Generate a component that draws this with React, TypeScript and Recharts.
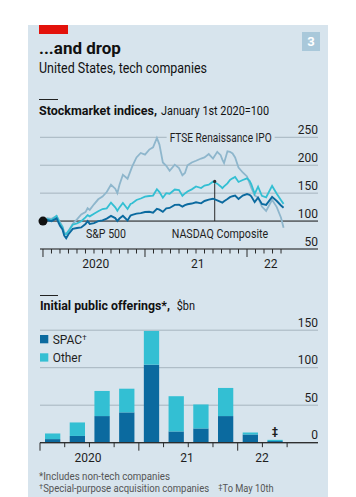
import React from 'react';
import {
  LineChart, Line, XAxis, YAxis, CartesianGrid, ReferenceLine, ReferenceDot,
  BarChart, Bar, LabelList,
} from 'recharts';

// ---------- Stockmarket indices (Jan 1st 2020 = 100), x = months since Jan 1st 2020 ----------
const months = [
  0, 0.5, 1, 1.6, 2, 2.3, 2.5, 2.73, 3, 3.5, 4, 4.5, 5, 5.25, 5.5, 6, 6.5, 7, 7.5, 8, 8.5, 8.75,
  9, 9.4, 9.95, 10.3, 10.5, 11, 11.5, 12, 12.5, 12.95, 13.4, 13.7, 14.1, 14.5, 14.9, 15.5, 16,
  16.4, 16.7, 17, 17.5, 18, 18.6, 19, 19.5, 20, 20.5, 20.9, 21.1, 21.3, 21.7, 22, 22.3, 22.6,
  23, 23.5, 24, 24.3, 24.5, 24.9, 25.3, 25.75, 26.25, 26.95, 27.5, 28, 28.3,
];
const sp500 = [
  100, 101.8, 99.8, 104.8, 91.4, 85, 73.9, 69.2, 76.5, 86.1, 87.6, 88.6, 94.6, 100, 94.9, 96.4,
  99.9, 101.2, 104.4, 109.2, 105.3, 100.2, 104.6, 109.4, 101.2, 109.9, 111, 113.3, 114.3, 116.3,
  116.6, 115, 121.8, 120.5, 116.6, 122.8, 123.5, 129.1, 129.4, 125.8, 128.5, 130.1, 131.4, 133.7,
  131.8, 136, 138.3, 140, 137, 134.5, 133.1, 135.5, 139.5, 142.8, 144.5, 145.6, 139.7, 145.8,
  148.5, 147, 144.3, 133.9, 142, 130.8, 129.1, 143.3, 135.9, 127.9, 123.8,
];
const nasdaq = [
  100, 103.2, 102, 109.4, 95.5, 88.6, 76.9, 76.5, 82, 93.5, 95.9, 99.7, 106.5, 110.6, 108.4, 113.2,
  117.6, 121.5, 122.8, 133.1, 124.7, 118.5, 124.5, 132.4, 121.6, 130.5, 131.8, 137.7, 140.4, 143.6,
  144.9, 145.7, 157.1, 152, 141.8, 150, 149, 156.5, 155.6, 145.2, 149.5, 153.1, 156.8, 161.9,
  159.1, 163.6, 165.2, 170.6, 167, 162, 158.9, 162, 167.5, 173.8, 176.5, 179, 170, 173.5,
  176.5, 172, 166, 148.8, 161.5, 145.3, 142.6, 162.9, 148.8, 137.5, 130.8,
];
const ftseIpo = [
  100, 105, 104, 109, 98, 90, 80, 77, 82, 95, 103, 112, 116, 123, 120, 130,
  139, 144, 152, 165, 158, 150, 165, 183, 176, 190, 198, 214, 222, 219,
  228, 232, 249, 237, 205, 199, 190, 201, 195, 182, 186, 200, 205, 208,
  212, 214, 220, 212, 224, 218, 210, 204, 225, 224, 221, 214, 196, 187,
  180, 168, 160, 146, 142, 126, 118, 138, 125, 106, 88,
];
const lineYTicks = [50, 100, 150, 200, 250];
const monthTicks = Array.from({ length: 29 }, (_, i) => i);
const lineYearLabelPos = [6.2, 18.2, 26.8];
const lineYearLabels = ['2020', '21', '22'];
const nasdaqPointer = { t: 20.2, value: 171 };
const seriesLabels = [
  { name: 'FTSE Renaissance IPO', t: 14.9, value: 250 },
  { name: 'S&P 500', t: 5.06, value: 77.3 },
  { name: 'NASDAQ Composite', t: 15.14, value: 76.4 },
];

// ---------- Initial public offerings, $bn, by quarter ----------
const quarters = ['Q1 20', 'Q2 20', 'Q3 20', 'Q4 20', 'Q1 21', 'Q2 21', 'Q3 21', 'Q4 21', 'Q1 22', 'Q2 22'];
const spac = [4.8, 9, 35.5, 40.4, 104, 15, 19, 35.5, 11, 2.2];
const other = [7.5, 18, 33.5, 31.6, 45, 47, 32, 37.5, 2.6, 1.6];
const notes = ['', '', '', '', '', '', '', '', '', '‡'];
const barYTicks = [0, 50, 100, 150];
const quarterTicks = Array.from({ length: 11 }, (_, i) => i);
const barYearLabelPos = [1.94, 5.95, 8.98];
const barYearLabels = ['2020', '21', '22'];

const FONT = 'Roboto, "Noto Sans", sans-serif';
const BG = '#d7e4ed';
const DARK = '#0b6a9f';
const CYAN = '#33bfd3';
const LIGHT = '#8eb6cc';
const GRID = '#a6b4be';
const AXIS = '#2a2a2a';
const TXT = '#1e1e1e';

const lineData = months.map((t, i) => ({ t, sp: sp500[i], nq: nasdaq[i], ipo: ftseIpo[i] }));
const barData = quarters.map((q, i) => ({ q, pos: i + 0.5, spac: spac[i], other: other[i], note: notes[i] }));

const RightTick = (props: any) => {
  const { x, y, payload } = props;
  return (
    <text x={x} y={y - 3.5} textAnchor="end" fontSize={12} fill={TXT} fontFamily={FONT}>
      {payload.value}
    </text>
  );
};

const makeXTick = (yearEvery: number, labelPos: number[], labels: string[], dy: number) => (props: any) => {
  const { x, y, payload } = props;
  const v = payload.value as number;
  if (Number.isInteger(v)) {
    const tall = v % yearEvery === 0;
    return <line x1={x} x2={x} y1={y} y2={y + (tall ? 8 : 4.5)} stroke={AXIS} strokeWidth={1} />;
  }
  const idx = labelPos.indexOf(v);
  return (
    <text x={x} y={y + dy} textAnchor="middle" fontSize={12} fill={TXT} fontFamily={FONT}>
      {idx >= 0 ? labels[idx] : ''}
    </text>
  );
};

const LineXTick = makeXTick(12, lineYearLabelPos, lineYearLabels, 18.5);
const BarXTick = makeXTick(4, barYearLabelPos, barYearLabels, 19);

const SeriesLabel = (props: any) => {
  const { viewBox, text, box, width } = props;
  const x = viewBox.x;
  const y = viewBox.y;
  return (
    <g>
      {box && <rect x={x - 3} y={y - 7} width={width + 6} height={14} fill={BG} />}
      <text x={x} y={y + 4.2} fontSize={12} fill={TXT} fontFamily={FONT} textLength={width} lengthAdjust="spacingAndGlyphs">
        {text}
      </text>
    </g>
  );
};

const labelWidths = [102, 40, 96.5];

export default function App() {
  return (
    <div style={{ position: 'absolute', left: 0, top: 0, width: 356, height: 497, background: '#fff', fontFamily: FONT }}>
      <div style={{ position: 'absolute', left: 28, top: 25, width: 300, height: 472, background: BG }} />
      <svg width={356} height={497} style={{ position: 'absolute', left: 0, top: 0 }} fontFamily={FONT}>
        <rect x={39} y={25} width={29} height={9} fill="#e3120b" />
        <rect x={302} y={32} width={18} height={19} fill="#a9c8da" />
        <text x={311} y={46.2} textAnchor="middle" fontWeight={700} fontSize={13} fill="#fff">3</text>
        <text x={39} y={54} fontSize={17} fontWeight={700} fill="#111">...and drop</text>
        <text x={39} y={72.5} fontSize={14} fill="#111" textLength={168} lengthAdjust="spacingAndGlyphs">United States, tech companies</text>
        <line x1={39} x2={58} y1={99.5} y2={99.5} stroke="#222" strokeWidth={1} />
        <text x={39} y={114.5} fontSize={12.5} fontWeight={700} fill="#111" textLength={118} lengthAdjust="spacingAndGlyphs">Stockmarket indices,</text>
        <text x={161} y={114.5} fontSize={12} fill="#111" textLength={108} lengthAdjust="spacingAndGlyphs">January 1st 2020=100</text>
        <line x1={40} x2={58} y1={295.5} y2={295.5} stroke="#222" strokeWidth={1} />
        <text x={40} y={310.3} fontSize={12.5} fontWeight={700} fill="#111" textLength={130} lengthAdjust="spacingAndGlyphs">Initial public offerings*,</text>
        <text x={176.7} y={310.3} fontSize={12} fill="#111" textLength={18.3} lengthAdjust="spacingAndGlyphs">$bn</text>
        <rect x={40} y={335} width={8.3} height={8.3} fill={DARK} />
        <text x={52.7} y={344.3} fontSize={12} fill={TXT}>SPAC<tspan fontSize={8} dy={-4}>†</tspan></text>
        <rect x={40} y={353.3} width={8.3} height={8.3} fill={CYAN} />
        <text x={52.7} y={362.4} fontSize={12} fill={TXT} textLength={29} lengthAdjust="spacingAndGlyphs">Other</text>
        <text x={39} y={480} fontSize={10} fill="#555" textLength={131} lengthAdjust="spacingAndGlyphs">*Includes non-tech companies</text>
        <text x={39} y={492} fontSize={10} fill="#555">
          <tspan fontSize={7.5} dy={-3}>†</tspan>
          <tspan dy={3} textLength={166} lengthAdjust="spacingAndGlyphs">Special-purpose acquisition companies</tspan>
        </text>
        <text x={218.3} y={492} fontSize={10} fill="#555">
          <tspan fontSize={7.5} dy={-3}>‡</tspan>
          <tspan dy={3} textLength={51} lengthAdjust="spacingAndGlyphs">To May 10th</tspan>
        </text>
      </svg>

      <div style={{ position: 'absolute', left: 0, top: 0 }}>
        <LineChart width={356} height={280} data={lineData} margin={{ top: 137.3, right: 37, left: 40, bottom: 11 }}>
          <CartesianGrid vertical={false} stroke={GRID} strokeWidth={1} />
          <XAxis
            dataKey="t" type="number" domain={[-0.35, 32.35]} ticks={[...monthTicks, ...lineYearLabelPos]}
            interval={0} tickSize={0} tickMargin={0} height={20} stroke={AXIS} tick={<LineXTick />}
          />
          <YAxis
            orientation="right" width={1} domain={[50, 250]} ticks={lineYTicks} tickSize={0} tickMargin={0}
            interval={0} axisLine={false} tickLine={false} tick={<RightTick />}
          />
          <ReferenceLine y={100} stroke={AXIS} strokeWidth={1} />
          <ReferenceLine
            segment={[{ x: nasdaqPointer.t, y: 100 }, { x: nasdaqPointer.t, y: nasdaqPointer.value }]}
            stroke={AXIS} strokeWidth={1}
          />
          {seriesLabels.map((s, i) => (
            <ReferenceDot
              key={s.name} x={s.t} y={s.value} r={0} fill="none" stroke="none"
              label={<SeriesLabel text={s.name} box={i === 0} width={labelWidths[i]} />}
            />
          ))}
          <Line dataKey="ipo" stroke={LIGHT} strokeWidth={1.8} dot={false} isAnimationActive={false} />
          <Line dataKey="nq" stroke={CYAN} strokeWidth={1.8} dot={false} isAnimationActive={false} />
          <Line dataKey="sp" stroke={DARK} strokeWidth={1.9} dot={false} isAnimationActive={false} />
          <ReferenceDot x={nasdaqPointer.t} y={nasdaqPointer.value} r={1.6} fill={AXIS} stroke="none" />
          <ReferenceDot x={0} y={100} r={4.5} fill="#111" stroke="none" />
        </LineChart>
      </div>

      <div style={{ position: 'absolute', left: 0, top: 0 }}>
        <BarChart width={356} height={475} data={barData} margin={{ top: 330.2, right: 37, left: 40, bottom: 12.3 }}>
          <CartesianGrid vertical={false} stroke={GRID} strokeWidth={1} />
          <XAxis
            dataKey="pos" type="number" domain={[0, 11.25]} ticks={[...quarterTicks, ...barYearLabelPos]}
            interval={0} tickSize={0} tickMargin={0} height={20} stroke={AXIS} tick={<BarXTick />}
          />
          <YAxis
            orientation="right" width={1} domain={[0, 150]} ticks={barYTicks} tickSize={0} tickMargin={0}
            interval={0} axisLine={false} tickLine={false} tick={<RightTick />}
          />
          <Bar dataKey="spac" stackId="a" fill={DARK} barSize={15.3} isAnimationActive={false} />
          <Bar dataKey="other" stackId="a" fill={CYAN} barSize={15.3} isAnimationActive={false}>
            <LabelList
              dataKey="note"
              content={(p: any) =>
                p.value ? (
                  <text x={p.x + p.width / 2} y={p.y - 4.4} textAnchor="middle" fontSize={11} fontWeight={700} fill={TXT} fontFamily={FONT}>
                    {p.value}
                  </text>
                ) : null
              }
            />
          </Bar>
          <ReferenceLine y={0} stroke={AXIS} strokeWidth={1} />
        </BarChart>
      </div>
    </div>
  );
}
